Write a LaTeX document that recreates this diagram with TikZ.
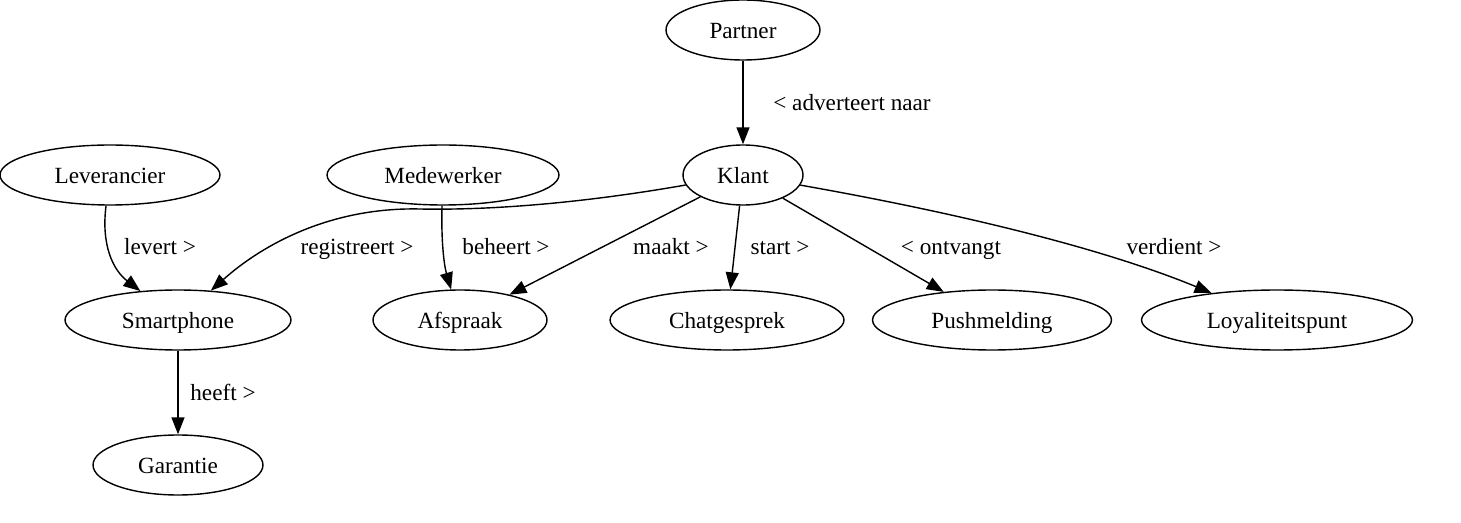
\documentclass[tikz,border=0pt]{standalone}
\usepackage{fontspec}
\setmainfont{Liberation Serif}
\usetikzlibrary{arrows.meta, shapes.geometric}
\tikzset{
  entity/.style={draw, ellipse, line width=0.8pt, minimum height=1.2cm, inner sep=0pt, text height=0.4cm, text depth=0.04cm, font=\fontsize{13.2}{15}\selectfont},
  rel/.style={line width=0.8pt, -{Triangle[length=0.34cm, width=0.26cm]}},
  lbl/.style={font=\fontsize{13.2}{15}\selectfont, inner sep=0pt, text height=0.4cm, text depth=0.04cm}
}
\begin{document}
\begin{tikzpicture}[x=0.02cm, y=-0.02cm]
    \useasboundingbox (0,0) rectangle (1461,523);

    % entities
    \node[entity, minimum width=3.08cm] (partner) at (743,30) {Partner};
    \node[entity, minimum width=2.4cm] (klant) at (743,175) {Klant};
    \node[entity, minimum width=4.4cm] (leverancier) at (110,175) {Leverancier};
    \node[entity, minimum width=4.64cm] (medewerker) at (443,175) {Medewerker};
    \node[entity, minimum width=4.52cm] (smartphone) at (178,320) {Smartphone};
    \node[entity, minimum width=3.48cm] (afspraak) at (460,320) {Afspraak};
    \node[entity, minimum width=4.68cm] (chatgesprek) at (727,320) {Chatgesprek};
    \node[entity, minimum width=4.78cm] (pushmelding) at (992,320) {Pushmelding};
    \node[entity, minimum width=5.42cm] (loyaliteitspunt) at (1277,320) {Loyaliteitspunt};
    \node[entity, minimum width=3.4cm] (garantie) at (178,465) {Garantie};

    % relations
    \draw[rel] (partner) -- (klant);
    \draw[rel] (leverancier) .. controls (101,245) and (113,270) .. (smartphone);
    \draw[rel] (klant) .. controls (560,207) and (470,210) .. (420,209)
        .. controls (330,207) and (262,245) .. (smartphone);
    \draw[rel] (medewerker) .. controls (441,240) and (444,265) .. (afspraak);
    \draw[rel] (klant) -- (afspraak);
    \draw[rel] (klant) -- (chatgesprek);
    \draw[rel] (klant) -- (pushmelding);
    \draw[rel] (klant) .. controls (930,208) and (1090,243) .. (loyaliteitspunt);
    \draw[rel] (smartphone) -- (garantie);

    % labels
    \node[lbl] (lpartner) at (852,102) {< adverteert naar};
    \node[lbl] (llevert) at (160,246) {levert >};
    \node[lbl] (lregistreert) at (357,246) {registreert >};
    \node[lbl] (lbeheert) at (506,246) {beheert >};
    \node[lbl] (lmaakt) at (671,246) {maakt >};
    \node[lbl] (lstart) at (780,246) {start >};
    \node[lbl] (lontvangt) at (951,246) {< ontvangt};
    \node[lbl] (lverdient) at (1174,246) {verdient >};
    \node[lbl] (lheeft) at (223,392) {heeft >};
\end{tikzpicture}
\end{document}
